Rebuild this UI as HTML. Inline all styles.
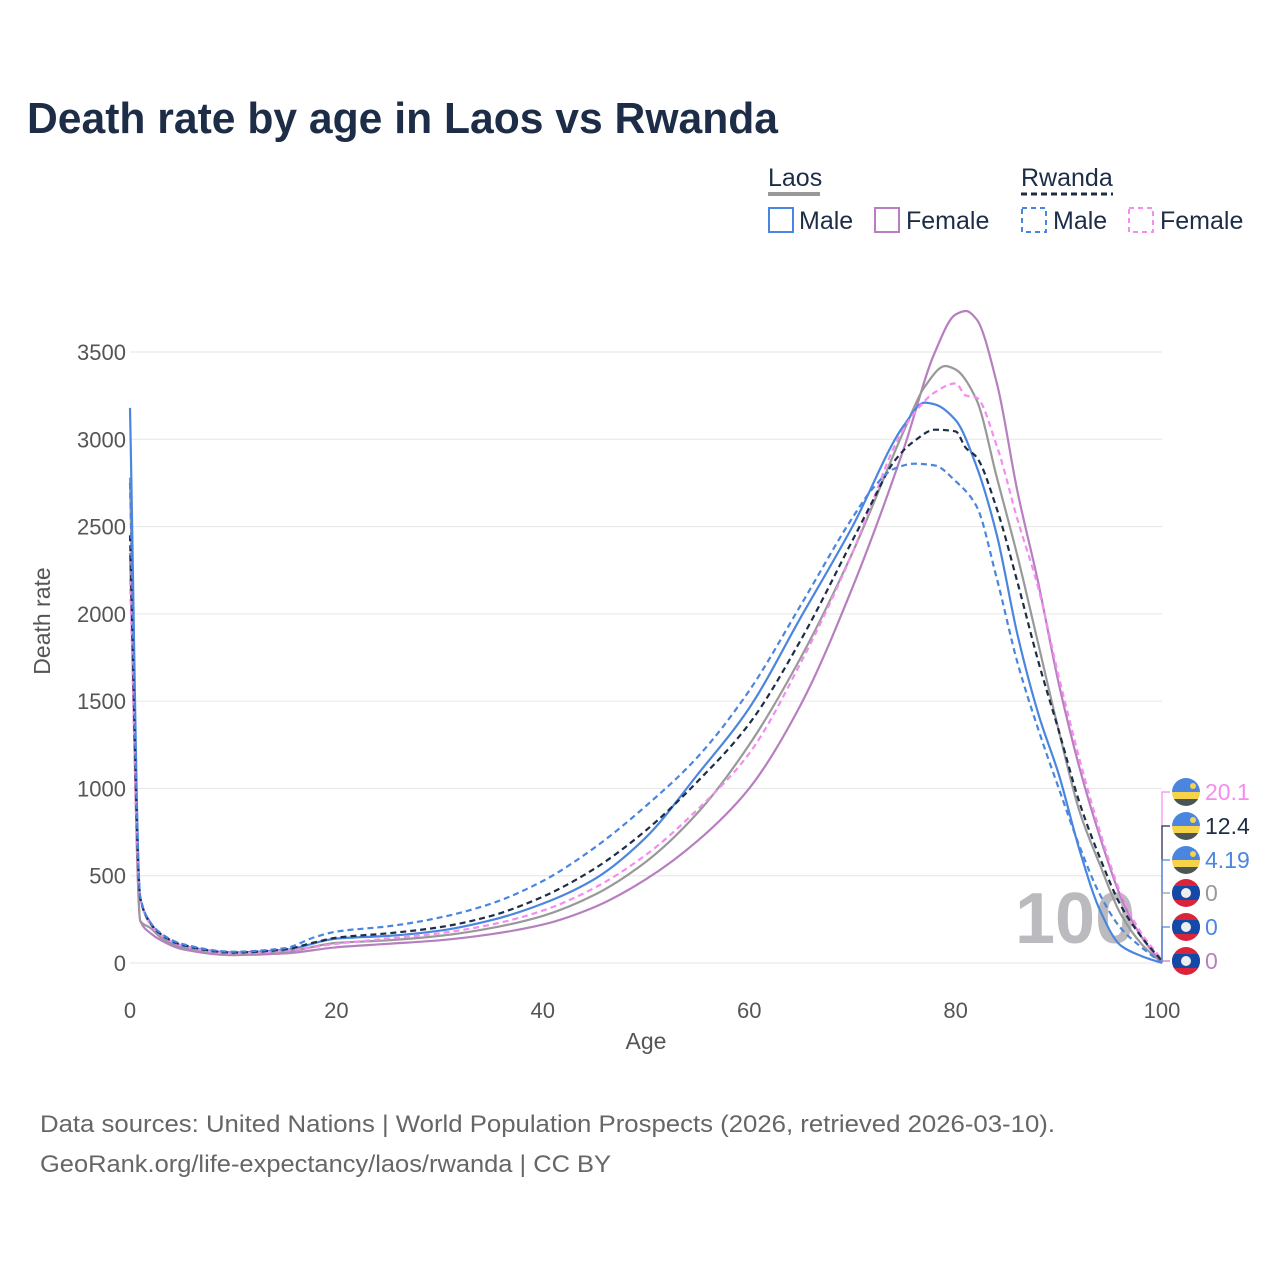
<!DOCTYPE html>
<html><head><meta charset="utf-8"><style>
html,body{margin:0;padding:0;background:#fff;}
svg{display:block;font-family:"Liberation Sans",sans-serif;}
</style></head><body>
<svg id="chart" width="1280" height="1280" viewBox="0 0 1280 1280" xmlns="http://www.w3.org/2000/svg">
<rect width="1280" height="1280" fill="#fff"/>
<text x="27" y="133" font-size="44" font-weight="bold" fill="#1e2d47" textLength="751" lengthAdjust="spacingAndGlyphs">Death rate by age in Laos vs Rwanda</text>
<g font-size="25" fill="#1e2d47">
<text x="768" y="186" fill="#1e2d47">Laos</text>
<line x1="768" y1="194" x2="820" y2="194" stroke="#999" stroke-width="4"/>
<text x="1021" y="186" fill="#1e2d47">Rwanda</text>
<line x1="1021" y1="194" x2="1113" y2="194" stroke="#1e2d47" stroke-width="3" stroke-dasharray="6,4"/>
<g><rect x="769" y="208" width="24" height="24" fill="none" stroke="#4a86e0" stroke-width="2"/><text x="799" y="229">Male</text></g>
<g><rect x="875" y="208" width="24" height="24" fill="none" stroke="#b77fbf" stroke-width="2"/><text x="906" y="229">Female</text></g>
<g><rect x="1022" y="208" width="24" height="24" fill="none" stroke="#4a86e0" stroke-width="2" stroke-dasharray="5,4"/><text x="1053" y="229">Male</text></g>
<g><rect x="1129" y="208" width="24" height="24" fill="none" stroke="#f58cf0" stroke-width="2" stroke-dasharray="5,4"/><text x="1160" y="229">Female</text></g>
</g>
<g id="grid"></g>
<g id="axes" font-size="22" fill="#555"></g>
<text x="1015" y="943" font-size="72" font-weight="bold" fill="#bbbbbf">100</text>
<g id="series"></g>
<g id="endlabels" font-size="23"></g>
<text x="646" y="1049" font-size="23" fill="#555" text-anchor="middle">Age</text>
<text transform="translate(50,621) rotate(-90)" font-size="23" fill="#555" text-anchor="middle">Death rate</text>
<text x="40" y="1132" font-size="24" fill="#666" textLength="1015" lengthAdjust="spacingAndGlyphs">Data sources: United Nations | World Population Prospects (2026, retrieved 2026-03-10).</text>
<text x="40" y="1172" font-size="24" fill="#666" textLength="571" lengthAdjust="spacingAndGlyphs">GeoRank.org/life-expectancy/laos/rwanda | CC BY</text>
</svg>
<script>
const xTicks=[0,20,40,60,80,100];
const yTicks=[0,500,1000,1500,2000,2500,3000,3500];
const laosMaleAges=[0,1,2,3,5,10,15,20,25,30,35,40,45,50,55,60,65,70,75,77,78,80,82,84,86,88,90,92,94,96,98,100];
const laosMaleVals=[3180,370,230,160,100,60,75,140,155,185,245,340,480,720,1080,1460,1980,2500,3080,3210,3200,3110,2850,2450,1880,1430,1080,650,300,100,40,0];
const laosFemaleAges=[0,1,2,3,5,10,15,20,25,30,35,40,45,50,55,60,65,70,75,78,80,81,82,84,86,88,90,92,94,96,98,100];
const laosFemaleVals=[2350,240,170,130,80,45,55,90,110,130,165,220,320,480,700,1000,1480,2150,2950,3500,3715,3735,3690,3320,2700,2180,1600,1120,720,380,150,0];
const laosTotalAges=[0,1,2,3,5,10,15,20,25,30,35,40,45,50,55,60,65,70,75,77,79,80,82,84,86,88,90,92,94,96,98,100];
const laosTotalVals=[2780,240,200,145,90,52,65,115,130,155,200,270,390,580,860,1250,1750,2350,3050,3300,3420,3400,3230,2780,2330,1830,1330,870,560,280,110,0];
const rwMaleAges=[0,1,2,3,5,10,15,18,20,25,30,35,40,45,50,55,60,65,70,72,74,76,78,80,82,84,86,88,90,92,94,96,98,100];
const rwMaleVals=[2750,380,230,170,110,65,85,150,180,210,260,340,470,660,900,1180,1560,2050,2550,2720,2830,2860,2850,2760,2620,2200,1720,1340,1000,670,390,200,90,0];
const rwFemaleAges=[0,1,2,3,5,10,15,20,25,30,35,40,45,50,55,60,65,70,72,74,76,78,80,81,82,84,86,88,90,92,94,96,98,100];
const rwFemaleVals=[2200,370,220,160,100,55,70,110,140,170,220,300,430,620,880,1200,1720,2350,2650,2950,3150,3270,3320,3250,3240,2960,2540,2150,1640,1170,750,400,170,20];
const rwTotalAges=[0,1,2,3,5,10,15,18,20,25,30,35,40,45,50,55,60,65,70,72,74,76,78,80,81,82,84,86,88,90,92,94,96,98,100];
const rwTotalVals=[2450,370,225,165,105,60,78,120,145,170,205,270,380,540,760,1040,1370,1850,2420,2650,2870,2990,3055,3045,2950,2900,2600,2180,1730,1330,920,600,330,150,12];
const endLabels=["20.1","12.4","4.19","0","0","0"];

const NS="http://www.w3.org/2000/svg";
const X0=130,X1=1162,Y0=963,Y1=352;
function xs(a){return X0+(X1-X0)*a/100;}
function ys(v){return Y0-(Y0-Y1)*v/3500;}
function mk(tag,attrs,parent){const e=document.createElementNS(NS,tag);for(const k in attrs)e.setAttribute(k,attrs[k]);parent.appendChild(e);return e;}
const grid=document.getElementById('grid'),axes=document.getElementById('axes');
yTicks.forEach(v=>{
  const l=mk('line',{x1:X0,x2:X1,y1:ys(v),y2:ys(v),stroke:'#e6e6e6','stroke-width':1},grid);
  
  
  const t=mk('text',{x:126,y:ys(v)+8,'text-anchor':'end'},axes);
  t.textContent=v;
  
  
});
xTicks.forEach(a=>{
  const t=mk('text',{x:xs(a),y:1018,'text-anchor':'middle'},axes);
  t.textContent=a;
  
  
});
// monotone cubic (Fritsch-Carlson)
function pathFor(ages,vals){
  const x=ages.map(xs),y=vals.map(ys),n=x.length;
  const d=[],m=new Array(n);
  for(let i=0;i<n-1;i++)d.push((y[i+1]-y[i])/(x[i+1]-x[i]));
  m[0]=d[0];m[n-1]=d[n-2];
  for(let i=1;i<n-1;i++){
    if(d[i-1]*d[i]<=0)m[i]=0;
    else{const h0=x[i]-x[i-1],h1=x[i+1]-x[i];const w1=2*h1+h0,w2=h1+2*h0;m[i]=(w1+w2)/(w1/d[i-1]+w2/d[i]);}
  }
  let s='M'+x[0].toFixed(1)+','+y[0].toFixed(1);
  for(let i=0;i<n-1;i++){
    const h=(x[i+1]-x[i])/3;
    s+='C'+(x[i]+h).toFixed(1)+','+(y[i]+m[i]*h).toFixed(1)+' '+(x[i+1]-h).toFixed(1)+','+(y[i+1]-m[i+1]*h).toFixed(1)+' '+x[i+1].toFixed(1)+','+y[i+1].toFixed(1);
  }
  return s;
}
const sg=document.getElementById('series');
const defs=[
 [laosFemaleAges,laosFemaleVals,'#b77fbf','','series-laos-female'],
 [laosTotalAges,laosTotalVals,'#999999','','series-laos-total'],
 [laosMaleAges,laosMaleVals,'#4a86e0','','series-laos-male'],
 [rwFemaleAges,rwFemaleVals,'#f58cf0','6,4','series-rwanda-female'],
 [rwTotalAges,rwTotalVals,'#1e2d47','6,4','series-rwanda-total'],
 [rwMaleAges,rwMaleVals,'#4a86e0','6,4','series-rwanda-male']
];
defs.forEach(s=>{
  const p=mk('path',{d:pathFor(s[0],s[1]),fill:'none',stroke:s[2],'stroke-width':2.2},sg);
  if(s[3])p.setAttribute('stroke-dasharray',s[3]);
  
  
});
const el=document.getElementById('endlabels');
const labColors=['#f58cf0','#1e2d47','#4a86e0','#999999','#4a86e0','#b77fbf'];
const labY=[792,826,860,893,927,961];
const flags=['rw','rw','rw','la','la','la'];
labY.forEach((y,i)=>{
  const ln=mk('path',{d:'M1162,963 L1162,'+y+' L1170,'+y,fill:'none',stroke:labColors[i],'stroke-width':1.2},el);
  
  
  const g=mk('g',{},el);
  
  
  const cid='c'+i;
  const cp=mk('clipPath',{id:cid},g);mk('circle',{cx:1186,cy:y,r:14},cp);
  const gg=mk('g',{'clip-path':'url(#'+cid+')'},g);
  if(flags[i]==='rw'){
    mk('rect',{x:1172,y:y-14,width:28,height:14,fill:'#4a86e0'},gg);
    mk('rect',{x:1172,y:y,width:28,height:7,fill:'#f7d34a'},gg);
    mk('rect',{x:1172,y:y+7,width:28,height:7,fill:'#4b5554'},gg);
    mk('circle',{cx:1193,cy:y-6,r:3,fill:'#f7d34a'},gg);
  }else{
    mk('rect',{x:1172,y:y-14,width:28,height:28,fill:'#d9243a'},gg);
    mk('rect',{x:1172,y:y-7,width:28,height:14,fill:'#1549a8'},gg);
    mk('circle',{cx:1186,cy:y,r:5,fill:'#eee'},gg);
  }
  const t=mk('text',{x:1205,y:y+8,fill:labColors[i]},el);
  t.textContent=endLabels[i];
  
  
});
</script>
</body></html>
